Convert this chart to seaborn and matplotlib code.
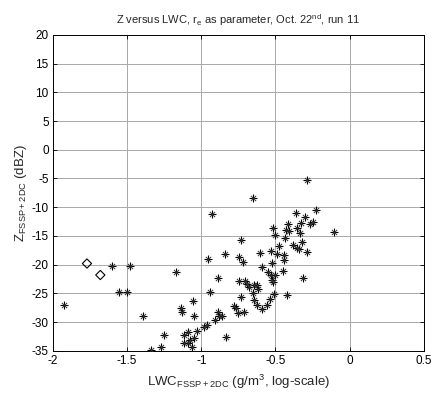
import numpy as np
import pandas as pd
import matplotlib
matplotlib.use("Agg")
import matplotlib.pyplot as plt
import seaborn as sns

# ---- data ----
star_lwc = [-1.926, -1.604, -1.481, -1.553, -1.499, -1.392, -1.250, -1.272, -1.336, -1.171,
            -1.135, -1.130, -1.055, -1.048, -0.942, -0.886, -0.879, -0.908, -0.863, -0.958,
            -0.980, -1.030, -1.092, -1.115, -1.048, -1.077, -1.115, -1.088, -1.061, -0.832,
            -0.890, -0.955, -0.838, -0.748, -0.722, -0.729, -0.745, -0.706, -0.690, -0.645,
            -0.627, -0.617, -0.654, -0.735, -0.646, -0.622, -0.594, -0.780, -0.764, -0.751,
            -0.713, -0.538, -0.556, -0.511, -0.423, -0.286, -0.654, -0.931, -0.363, -0.302,
            -0.226, -0.329, -0.266, -0.248, -0.515, -0.418, -0.428, -0.354, -0.338, -0.407,
            -0.500, -0.437, -0.104, -0.324, -0.385, -0.358, -0.340, -0.286, -0.478, -0.529,
            -0.492, -0.443, -0.445, -0.607, -0.521, -0.450, -0.592, -0.549, -0.530, -0.506,
            -0.522, -0.520, -0.313, -0.677]
star_z = [-27.0, -20.3, -20.2, -24.8, -24.8, -29.0, -32.3, -34.4, -34.9, -21.3,
          -27.5, -28.2, -26.3, -28.9, -24.8, -28.2, -28.9, -29.6, -29.0, -30.5,
          -30.9, -31.5, -31.7, -32.2, -32.7, -33.1, -33.7, -33.7, -34.4, -32.6,
          -22.3, -19.0, -18.2, -18.6, -19.6, -15.7, -22.9, -22.9, -23.3, -23.5,
          -23.6, -24.3, -24.9, -25.6, -26.2, -27.1, -27.7, -27.2, -27.6, -28.4,
          -28.2, -26.0, -27.0, -25.1, -25.2, -5.3, -8.4, -11.2, -11.0, -11.7,
          -10.4, -12.7, -12.9, -12.6, -13.6, -12.9, -13.9, -13.6, -14.5, -14.2,
          -14.8, -15.3, -14.4, -16.1, -16.5, -17.1, -17.3, -17.8, -16.7, -17.6,
          -18.1, -18.3, -19.2, -18.0, -19.7, -21.1, -20.4, -21.2, -21.8, -21.8,
          -22.6, -23.1, -22.3, -23.8]
diamond_lwc = [-1.77, -1.68]
diamond_z = [-19.8, -21.8]

x_ticks = [-2, -1.5, -1, -0.5, 0, 0.5]
y_ticks = [-35, -30, -25, -20, -15, -10, -5, 0, 5, 10, 15, 20]

sns.set_theme(style="white")
plt.rcParams["font.family"] = ["Liberation Sans", "DejaVu Sans"]
plt.rcParams["mathtext.fontset"] = "custom"
plt.rcParams["mathtext.rm"] = "Liberation Sans"
plt.rcParams["mathtext.it"] = "Liberation Sans:italic"
plt.rcParams["mathtext.bf"] = "Liberation Sans:bold"

df_star = pd.DataFrame({"lwc": star_lwc, "z": star_z})
df_dia = pd.DataFrame({"lwc": diamond_lwc, "z": diamond_z})

fig = plt.figure(figsize=(4.33, 3.96), dpi=100)
ax = fig.add_axes([0.122, 0.114, 0.857, 0.798])

ax.set_axisbelow(True)
ax.grid(True, color="#a8a8a8", linewidth=0.7, linestyle="-")

# MATLAB-like asterisk: a '+' with shorter diagonals
sns.scatterplot(data=df_star, x="lwc", y="z", ax=ax, marker="+", s=34,
                color="black", linewidth=0.8, legend=False, zorder=3)
sns.scatterplot(data=df_star, x="lwc", y="z", ax=ax, marker="x", s=14,
                color="#333333", linewidth=0.7, legend=False, zorder=3)
sns.scatterplot(data=df_dia, x="lwc", y="z", ax=ax, marker="D", s=22,
                facecolor="none", edgecolor="black", linewidth=0.8, legend=False, zorder=3)

ax.set_xlim(-2, 0.5)
ax.set_ylim(-35, 20)
ax.set_xticks(x_ticks)
ax.set_xticklabels([f"{t:g}" for t in x_ticks])
ax.set_yticks(y_ticks)
ax.set_yticklabels([f"{t:g}" for t in y_ticks])
ax.tick_params(direction="in", length=3, width=0.6, labelsize=8.5, colors="black",
               top=True, right=True, bottom=True, left=True, pad=3)
for sp in ax.spines.values():
    sp.set_color("black")
    sp.set_linewidth(0.7)
    sp.set_visible(True)

ax.set_xlabel(r"LWC$_{\rm FSSP+2DC}$ (g/m$^{3}$, log-scale)", fontsize=9.5, labelpad=4)
ax.set_ylabel(r"Z$_{\rm FSSP+2DC}$ (dBZ)", fontsize=9.5, labelpad=2)
ax.set_title(r"Z versus LWC, r$_{\rm e}$ as parameter, Oct. 22$^{\rm nd}$, run 11",
             fontsize=8, pad=8)

fig.savefig("out.png", dpi=100, facecolor="white")
